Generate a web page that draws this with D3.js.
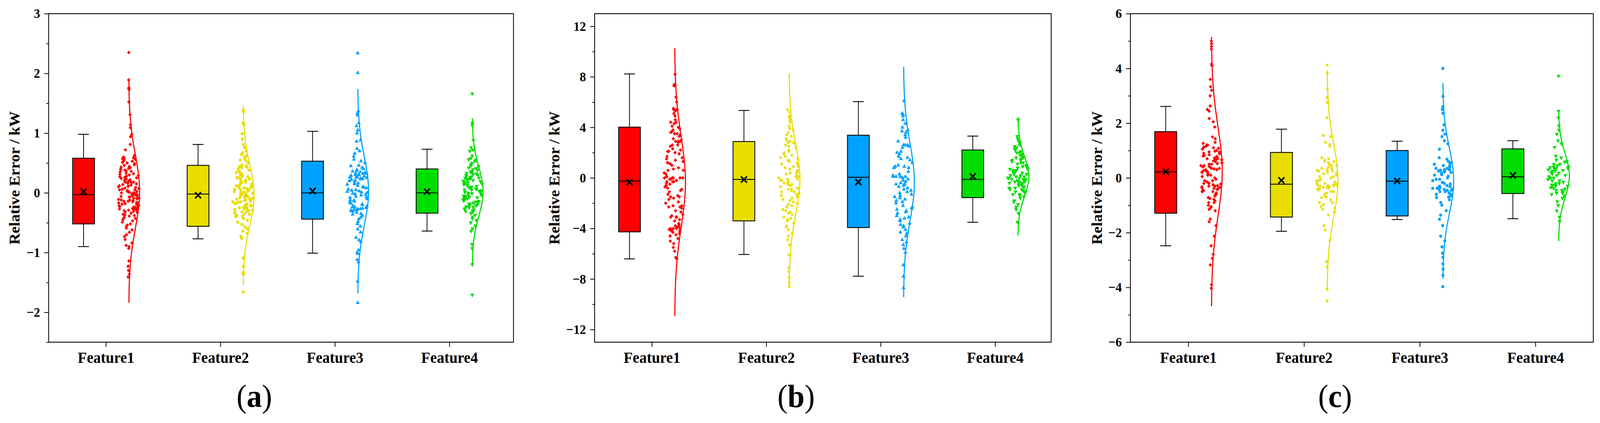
<!DOCTYPE html>
<html lang="en">
  <head>
    <meta charset="utf-8">
    <title>Relative error box + raincloud</title>
    <script src="https://d3js.org/d3.v7.min.js"></script>
    <style>
      html, body { margin: 0; padding: 0; background: #fff; overflow: hidden; }
      svg { display: block; }
      text { font-family: "Times New Roman", "Liberation Serif", serif; }
    </style>
  </head>
  <body>
    <script>

  // ---- data ----
  var categories = ["Feature1", "Feature2", "Feature3", "Feature4"];
  var colors = ["#ff0000", "#e8de00", "#00a2ff", "#00dd00"];

  // y axes per panel
  var yDomainA = [-2.5, 3], yDomainB = [-13, 13], yDomainC = [-6, 6];
  var yTicksA = [-2, -1, 0, 1, 2, 3];
  var yTicksB = [-12, -8, -4, 0, 4, 8, 12];
  var yTicksC = [-6, -4, -2, 0, 2, 4, 6];
  var yMinorA = [-2.5, -1.5, -0.5, 0.5, 1.5, 2.5];
  var yMinorB = [-10, -6, -2, 2, 6, 10];
  var yMinorC = [-5, -3, -1, 1, 3, 5];

  // box stats per feature: [whiskerLow, q1, median, q3, whiskerHigh, mean, sd]
  var statsA = [
    [-0.90, -0.52, -0.03, 0.58, 0.98, 0.02, 0.62],
    [-0.77, -0.56, -0.02, 0.46, 0.81, -0.04, 0.50],
    [-1.01, -0.44, 0.00, 0.53, 1.03, 0.03, 0.57],
    [-0.64, -0.34, 0.00, 0.40, 0.73, 0.02, 0.41]
  ];
  var statsB = [
    [-6.41, -4.27, -0.25, 4.02, 8.23, -0.33, 3.53],
    [-6.06, -3.40, -0.12, 2.88, 5.34, -0.13, 2.80],
    [-7.78, -3.93, 0.05, 3.38, 6.04, -0.33, 3.04],
    [-3.51, -1.56, -0.12, 2.21, 3.31, 0.12, 1.56]
  ];
  var statsC = [
    [-2.48, -1.29, 0.22, 1.69, 2.61, 0.23, 1.64],
    [-1.95, -1.43, -0.23, 0.93, 1.78, -0.09, 1.34],
    [-1.52, -1.39, -0.12, 1.00, 1.34, -0.11, 1.19],
    [-1.49, -0.57, 0.04, 1.06, 1.36, 0.09, 0.80]
  ];

  // raw points, panel (a)
  var a1 = [2.35, 1.89, 1.76, 1.75, 1.73, 1.52, 1.31, 1.14, 1.09, 0.98, 0.94, 0.81, 0.72, 0.63, 0.60, 0.59, 0.58, 0.57, 0.56,
    0.55, 0.53, 0.51, 0.50, 0.49, 0.46, 0.44, 0.42, 0.41, 0.40, 0.39, 0.38, 0.36, 0.35, 0.33, 0.32, 0.31, 0.29, 0.27, 0.26,
    0.25, 0.24, 0.22, 0.21, 0.20, 0.19, 0.18, 0.17, 0.16, 0.14, 0.13, 0.12, 0.11, 0.10, 0.08, 0.07, 0.06, 0.05, 0.04, 0.03,
    0.02, 0.01, 0.00, 0.00, -0.01, -0.02, -0.03, -0.04, -0.05, -0.06, -0.07, -0.08, -0.09, -0.10, -0.11, -0.12, -0.13,
    -0.14, -0.15, -0.16, -0.17, -0.18, -0.19, -0.20, -0.21, -0.22, -0.23, -0.24, -0.25, -0.26, -0.27, -0.28, -0.29, -0.30,
    -0.31, -0.33, -0.34, -0.36, -0.38, -0.39, -0.41, -0.43, -0.45, -0.47, -0.49, -0.52, -0.54, -0.56, -0.59, -0.62, -0.66,
    -0.70, -0.73, -0.78, -0.84, -0.88, -0.90, -0.93, -1.14, -1.23, -1.30, -1.36, -1.41,
    0.47, 0.43, 0.37, 0.28, 0.23, 0.15, 0.09, 0.02, -0.04, -0.09, -0.14, -0.19, -0.24, -0.29, -0.32, -0.37, -0.42, -0.22,
    -0.12, 0.05, 0.18, 0.30, 0.52, -0.27, -0.17, -0.07, 0.11, 0.26];
  var a2 = [1.38, 1.36, 1.17, 1.14, 0.99, 0.90, 0.81, 0.76, 0.70, 0.67, 0.64, 0.60, 0.57, 0.54, 0.50, 0.47, 0.45, 0.43,
    0.42, 0.40, 0.38, 0.36, 0.35, 0.33, 0.31, 0.30, 0.28, 0.27, 0.25, 0.24, 0.23, 0.21, 0.20, 0.19, 0.17, 0.16, 0.14, 0.13,
    0.12, 0.11, 0.09, 0.08, 0.07, 0.06, 0.05, 0.03, 0.02, 0.01, 0.00, -0.01, -0.02, -0.03, -0.04, -0.05, -0.06, -0.07,
    -0.08, -0.09, -0.10, -0.11, -0.12, -0.13, -0.14, -0.15, -0.16, -0.17, -0.18, -0.19, -0.21, -0.22, -0.24, -0.25, -0.27,
    -0.28, -0.30, -0.31, -0.33, -0.35, -0.37, -0.38, -0.40, -0.43, -0.46, -0.49, -0.53, -0.57, -0.60, -0.64, -0.68, -0.73,
    -0.76, -1.09, -1.23, -1.34, -1.36, -1.66,
    0.62, 0.55, 0.44, 0.34, 0.26, 0.18, 0.10, 0.04, -0.02, -0.06, -0.11, -0.15, -0.20, -0.23, -0.26, -0.29, -0.32, -0.36,
    -0.39, 0.22, 0.15, 0.08];
  var a3 = [2.34, 2.01, 1.37, 1.33, 1.30, 1.17, 1.12, 1.05, 1.00, 0.88, 0.86, 0.74, 0.70, 0.66, 0.61, 0.56, 0.53, 0.50,
    0.46, 0.42, 0.39, 0.37, 0.36, 0.35, 0.33, 0.32, 0.31, 0.30, 0.29, 0.28, 0.27, 0.26, 0.25, 0.24, 0.23, 0.22, 0.20, 0.18,
    0.16, 0.14, 0.12, 0.10, 0.08, 0.06, 0.05, 0.03, 0.02, 0.01, 0.00, -0.01, -0.03, -0.04, -0.06, -0.08, -0.10, -0.12,
    -0.14, -0.16, -0.18, -0.20, -0.22, -0.23, -0.24, -0.25, -0.26, -0.27, -0.28, -0.29, -0.30, -0.31, -0.33, -0.35, -0.38,
    -0.41, -0.44, -0.48, -0.52, -0.56, -0.61, -0.66, -0.75, -0.79, -0.82, -0.96, -1.00, -1.02, -1.12, -1.16, -1.48, -1.84,
    0.45, 0.40, 0.34, 0.30, 0.27, 0.24, 0.21, 0.15, 0.09, 0.04, -0.02, -0.07, -0.13, -0.19, -0.24, -0.27, -0.30, -0.36,
    0.32, 0.26];
  var a4 = [1.66, 1.17, 1.13, 0.88, 0.76, 0.72, 0.70, 0.62, 0.58, 0.56, 0.55, 0.53, 0.50, 0.47, 0.44, 0.42, 0.41, 0.38,
    0.36, 0.35, 0.34, 0.32, 0.30, 0.29, 0.28, 0.26, 0.25, 0.24, 0.22, 0.21, 0.20, 0.19, 0.17, 0.16, 0.15, 0.14, 0.12, 0.11,
    0.10, 0.09, 0.07, 0.06, 0.05, 0.04, 0.02, 0.01, 0.00, -0.01, -0.02, -0.03, -0.04, -0.05, -0.06, -0.07, -0.08, -0.10,
    -0.11, -0.13, -0.14, -0.16, -0.17, -0.18, -0.19, -0.21, -0.22, -0.24, -0.25, -0.26, -0.28, -0.30, -0.32, -0.34, -0.37,
    -0.40, -0.43, -0.46, -0.50, -0.55, -0.60, -0.64, -0.86, -0.93, -1.20, -1.71,
    0.45, 0.39, 0.33, 0.27, 0.23, 0.18, 0.13, 0.08, 0.03, -0.03, -0.09, -0.12, -0.15, -0.20, -0.23, -0.27, -0.31, 0.31,
    0.25, 0.05, -0.06];

  // raw points, panel (b)
  var b1 = [8.2, 7.4, 7.3, 7.3, 6.4, 6.0, 5.5, 5.4, 5.4, 5.3, 5.1, 4.9, 4.6, 4.4, 4.3, 4.1, 4.0, 3.9, 3.8, 3.6, 3.5, 3.5,
    3.4, 3.3, 3.1, 3.0, 2.9, 2.9, 2.8, 2.6, 2.6, 2.5, 2.3, 2.1, 2.1, 2.0, 1.9, 1.7, 1.6, 1.5, 1.4, 1.3, 1.2, 1.1, 1.0,
    0.8, 0.7, 0.6, 0.4, 0.3, 0.1, 0.0, 0.0, 0.0, 0.0, -0.1, -0.1, -0.2, -0.3, -0.3, -0.4, -0.5, -0.7, -0.8, -0.9, -1.0,
    -1.1, -1.3, -1.4, -1.5, -1.6, -1.7, -1.9, -2.0, -2.2, -2.2, -2.3, -2.4, -2.6, -2.7, -2.9, -3.0, -3.1, -3.1, -3.3,
    -3.4, -3.6, -3.7, -3.8, -3.9, -4.0, -4.0, -4.0, -4.1, -4.1, -4.2, -4.2, -4.3, -4.4, -4.5, -4.6, -4.8, -5.0, -5.2,
    -5.5, -5.8, -6.3, -6.4,
    4.4, 3.7, 2.9, 2.2, 1.2, 0.0, -0.6, -1.5, -2.3, -3.1, -3.8, -4.0, -4.3, -4.2, 5.4, 0.6, -0.3];
  var b2 = [5.4, 5.2, 4.9, 4.8, 4.6, 4.4, 4.1, 3.9, 3.8, 3.6, 3.4, 3.3, 3.1, 2.9, 2.8, 2.8, 2.7, 2.5, 2.4, 2.2, 2.1, 2.0,
    1.8, 1.7, 1.6, 1.5, 1.4, 1.3, 1.2, 1.1, 1.0, 0.9, 0.8, 0.7, 0.6, 0.5, 0.4, 0.3, 0.2, 0.1, 0.0, 0.0, -0.1, -0.1, -0.2,
    -0.3, -0.4, -0.5, -0.6, -0.7, -0.8, -0.9, -0.9, -1.0, -1.1, -1.2, -1.3, -1.4, -1.5, -1.6, -1.8, -1.9, -2.0, -2.2,
    -2.3, -2.5, -2.6, -2.8, -2.9, -3.1, -3.3, -3.4, -3.6, -3.8, -3.9, -4.1, -4.4, -4.6, -4.9, -5.3, -6.1, -7.1, -7.4,
    -7.9, -8.3, -8.6,
    3.0, 2.6, 1.9, 1.4, 0.9, 0.4, -0.2, -0.5, -0.8, -1.1, -1.7, -2.1, -2.7, -3.2, 0.1, -0.4];
  var b3 = [6.1, 5.1, 5.0, 4.9, 4.6, 4.3, 4.0, 3.8, 3.6, 3.4, 3.2, 2.9, 2.6, 2.6, 2.5, 2.4, 2.1, 2.0, 1.9, 1.7, 1.6, 1.4,
    1.2, 1.0, 0.9, 0.8, 0.8, 0.5, 0.3, 0.2, 0.1, 0.1, 0.1, 0.0, -0.1, -0.3, -0.4, -0.5, -0.6, -0.8, -0.9, -1.0, -1.1, -1.3,
    -1.4, -1.5, -1.6, -1.8, -1.9, -2.0, -2.2, -2.3, -2.4, -2.6, -2.7, -2.8, -3.0, -3.1, -3.3, -3.4, -3.6, -3.7, -3.9,
    -4.1, -4.3, -4.4, -4.6, -4.9, -5.1, -5.3, -5.6, -5.9, -6.9, -7.8, -8.7,
    3.7, 2.6, 1.5, 0.8, 0.1, 0.1, -0.2, -0.7, -1.2, -1.7, -2.5, -3.2, -3.8, 0.9, -0.5];
  var b4 = [4.6, 3.3, 3.1, 2.9, 2.8, 2.6, 2.5, 2.4, 2.3, 2.2, 2.1, 2.0, 1.9, 1.8, 1.7, 1.6, 1.5, 1.4, 1.3, 1.2, 1.1, 1.0,
    0.9, 0.8, 0.8, 0.7, 0.6, 0.5, 0.5, 0.4, 0.4, 0.3, 0.2, 0.2, 0.1, 0.0, 0.0, 0.0, -0.1, -0.1, -0.2, -0.3, -0.3, -0.4,
    -0.5, -0.5, -0.6, -0.7, -0.8, -0.9, -1.0, -1.1, -1.2, -1.3, -1.4, -1.5, -1.6, -1.8, -1.9, -2.1, -2.3, -2.5, -2.8, -3.5,
    1.6, 1.2, 0.9, 0.6, 0.3, 0.1, -0.1, -0.2, -0.4, -0.6, -0.7, -0.9, -1.1, -1.3, 2.0, 1.4, 0.7, 0.0, -0.3, -0.8];

  // raw points, panel (c)
  var c1 = [5.00, 4.90, 4.80, 4.70, 4.16, 4.10, 3.60, 3.33, 3.20, 3.00, 2.63, 2.50, 2.44, 2.17, 2.05, 1.86, 1.50, 1.43,
    1.30, 1.26, 1.20, 1.16, 1.12, 1.08, 1.05, 1.00, 0.98, 0.94, 0.90, 0.88, 0.85, 0.82, 0.78, 0.76, 0.72, 0.70, 0.66, 0.62,
    0.60, 0.55, 0.52, 0.50, 0.45, 0.42, 0.40, 0.38, 0.35, 0.33, 0.30, 0.26, 0.22, 0.20, 0.15, 0.10, 0.05, 0.00, -0.05,
    -0.10, -0.15, -0.20, -0.22, -0.25, -0.28, -0.30, -0.32, -0.34, -0.36, -0.38, -0.42, -0.46, -0.50, -0.55, -0.60, -0.66,
    -0.72, -0.78, -0.84, -0.90, -1.00, -1.10, -1.15, -1.20, -1.50, -1.60, -1.74, -2.13, -2.48, -2.79, -2.94, -3.18, -3.90,
    -4.03,
    1.10, 0.95, 0.80, 0.65, 0.50, 0.35, 0.30, 0.25, 0.10, -0.10, -0.20, -0.30, -0.40, -0.45, -0.50, -0.60, -0.75, -0.90,
    -1.05, 0.45, 0.70, 1.20];
  var c2 = [4.12, 3.83, 3.25, 2.94, 2.79, 2.75, 2.20, 1.55, 1.51, 1.30, 1.22, 1.16, 0.74, 0.70, 0.65, 0.60, 0.55, 0.50,
    0.45, 0.40, 0.35, 0.30, 0.28, 0.25, 0.20, 0.15, 0.10, 0.05, 0.00, -0.05, -0.10, -0.15, -0.20, -0.22, -0.25, -0.28,
    -0.30, -0.33, -0.35, -0.38, -0.40, -0.45, -0.50, -0.55, -0.60, -0.66, -0.72, -0.80, -0.90, -0.97, -1.05, -1.15, -1.25,
    -1.36, -1.74, -1.90, -2.28, -3.06, -3.25, -4.07, -4.49,
    0.60, 0.45, 0.35, 0.20, 0.05, -0.10, -0.20, -0.25, -0.30, -0.35, -0.40, -0.50, -0.70, -0.90, -1.10, 0.25, -0.28];
  var c3 = [4.00, 2.98, 2.60, 2.50, 2.36, 1.94, 1.74, 1.60, 1.51, 1.36, 1.25, 1.05, 0.74, 0.68, 0.60, 0.55, 0.50, 0.45,
    0.40, 0.35, 0.30, 0.28, 0.25, 0.22, 0.18, 0.12, 0.06, 0.00, -0.05, -0.10, -0.16, -0.22, -0.28, -0.32, -0.36, -0.38,
    -0.40, -0.42, -0.45, -0.50, -0.55, -0.60, -0.66, -0.72, -0.80, -0.90, -1.00, -1.20, -1.36, -1.51, -1.74, -2.13, -2.30,
    -2.52, -2.75, -2.90, -3.14, -3.33, -3.56, -3.97,
    0.55, 0.45, 0.35, 0.30, 0.25, 0.20, 0.10, -0.05, -0.20, -0.30, -0.35, -0.40, -0.45, -0.50, -0.60, -0.70, 0.28, -0.38];
  var c4 = [3.72, 2.44, 2.20, 1.90, 1.75, 1.60, 1.36, 1.25, 1.12, 0.80, 0.74, 0.66, 0.58, 0.50, 0.45, 0.40, 0.38, 0.35,
    0.30, 0.28, 0.25, 0.20, 0.15, 0.10, 0.05, 0.00, -0.05, -0.10, -0.15, -0.20, -0.25, -0.28, -0.30, -0.35, -0.40, -0.45,
    -0.50, -0.55, -0.60, -0.74, -0.86, -1.00, -1.20, -1.43, -1.59,
    0.60, 0.50, 0.40, 0.32, 0.25, 0.18, 0.10, 0.00, -0.10, -0.20, -0.30, -0.38, -0.45, -0.55, -0.65, 0.35, -0.25];

  // marker shapes per panel
  var markersA = ["diamond", "circle", "triangle", "triangleDown"];
  var markersB = ["diamond", "square", "triangle", "triangleDown"];
  var markersC = ["diamond", "square", "circle", "triangleDown"];

  // ---- layout ----
  var W = 4300, H = 1083;
  var plotTop = 35, plotBottom = 876;
  var panels = [
    {label: "a", yDomain: yDomainA, ticks: yTicksA, minor: yMinorA, stats: statsA, points: [a1, a2, a3, a4], markers: markersA,
      left: 130.7, right: 1380, xMax: 4.56, titleGap: 78},
    {label: "b", yDomain: yDomainB, ticks: yTicksB, minor: yMinorB, stats: statsB, points: [b1, b2, b3, b4], markers: markersB,
      left: 1598, right: 2825, xMax: 4.49, titleGap: 95},
    {label: "c", yDomain: yDomainC, ticks: yTicksC, minor: yMinorC, stats: statsC, points: [c1, c2, c3, c4], markers: markersC,
      left: 3038, right: 4282, xMax: 4.5, titleGap: 76}
  ];

  var boxOffset = -0.195, cloudOffset = 0.2, boxWidth = 0.19;
  var curveMax = 29;   // px, widest point of the half-normal curve

  var symbols = {
    diamond: {type: d3.symbolDiamond2 || d3.symbolSquare, size: 56, rot: d3.symbolDiamond2 ? 0 : 45},
    circle: {type: d3.symbolCircle, size: 50, rot: 0},
    square: {type: d3.symbolSquare, size: 42, rot: 0},
    triangle: {type: d3.symbolTriangle, size: 50, rot: 0},
    triangleDown: {type: d3.symbolTriangle, size: 50, rot: 180}
  };

  // deterministic spread for point layout
  function spread(i) {
    var s = Math.sin(i * 127.1 + 311.7) * 43758.5453;
    return s - Math.floor(s);
  }
  var minus = s => String(s).replace("-", "\u2212");

  // drawn in a 4300x1083 coordinate system, scaled to the window
  var svg = d3.select("body").append("svg")
    .attr("viewBox", `0 0 ${W} ${H}`)
    .attr("preserveAspectRatio", "none")
    .style("width", "100vw")
    .style("height", "100vh");

  panels.forEach(function(p, pi) {
    var x = d3.scaleLinear().domain([0.5, p.xMax]).range([p.left, p.right]);
    var y = d3.scaleLinear().domain(p.yDomain).range([plotBottom, plotTop]);
    var g = svg.append("g");
    var bw = x(1 + boxWidth) - x(1);

    // axes
    var yAxis = d3.axisLeft(y).tickValues(p.ticks).tickSize(12).tickPadding(11).tickSizeOuter(0).tickFormat(minus);
    var ya = g.append("g").attr("transform", `translate(${p.left},0)`).call(yAxis);
    var ym = g.append("g").attr("transform", `translate(${p.left},0)`)
      .call(d3.axisLeft(y).tickValues(p.minor).tickSize(6).tickSizeOuter(0).tickFormat(""));
    var xAxis = d3.axisBottom(x).tickValues([1, 2, 3, 4]).tickSize(12).tickPadding(13).tickSizeOuter(0)
      .tickFormat((d, i) => categories[i]);
    var xa = g.append("g").attr("transform", `translate(0,${plotBottom})`).call(xAxis);

    [ya, ym, xa].forEach(function(a) {
      a.select(".domain").remove();
      a.selectAll(".tick line").attr("stroke", "#000").attr("stroke-width", 2);
    });
    ya.selectAll(".tick text").attr("font-size", 34).attr("font-weight", "bold").attr("fill", "#000");
    xa.selectAll(".tick text").attr("font-size", 40).attr("font-weight", "bold").attr("fill", "#000");

    g.append("rect")
      .attr("x", p.left).attr("y", plotTop)
      .attr("width", p.right - p.left).attr("height", plotBottom - plotTop)
      .attr("fill", "none").attr("stroke", "#000").attr("stroke-width", 2.2);

    // y title
    g.append("text")
      .attr("transform", `translate(${p.left - p.titleGap},${(plotTop + plotBottom) / 2}) rotate(-90)`)
      .attr("text-anchor", "middle")
      .attr("font-size", 40).attr("font-weight", "bold")
      .text("Relative Error / kW");

    // panel label
    var lab = g.append("text")
      .attr("x", (p.left + p.right) / 2 - 72).attr("y", 1042)
      .attr("text-anchor", "middle").attr("font-size", 82);
    lab.append("tspan").text("(");
    lab.append("tspan").attr("font-weight", "bold").text(p.label);
    lab.append("tspan").text(")");

    p.stats.forEach(function(s, k) {
      var col = colors[k];
      var bx = x(k + 1 + boxOffset);
      var cx = x(k + 1 + cloudOffset);
      var mean = s[5], sd = s[6];

      // whiskers
      g.append("line").attr("x1", bx).attr("x2", bx).attr("y1", y(s[0])).attr("y2", y(s[4]))
        .attr("stroke", "#000").attr("stroke-width", 2);
      [s[0], s[4]].forEach(function(v) {
        g.append("line").attr("x1", bx - bw / 4).attr("x2", bx + bw / 4).attr("y1", y(v)).attr("y2", y(v))
          .attr("stroke", "#000").attr("stroke-width", 2.2);
      });
      // box
      g.append("rect").attr("x", bx - bw / 2).attr("width", bw)
        .attr("y", y(s[3])).attr("height", y(s[1]) - y(s[3]))
        .attr("fill", col).attr("stroke", "#000").attr("stroke-width", 2.2);
      g.append("line").attr("x1", bx - bw / 2).attr("x2", bx + bw / 2).attr("y1", y(s[2])).attr("y2", y(s[2]))
        .attr("stroke", "#000").attr("stroke-width", 2.2);
      // mean cross
      var my = y(mean), r = 8;
      g.append("path")
        .attr("d", `M${bx - r},${my - r}L${bx + r},${my + r}M${bx - r},${my + r}L${bx + r},${my - r}`)
        .attr("stroke", "#000").attr("stroke-width", 4).attr("fill", "none");

      // points
      var sym = symbols[p.markers[k]];
      var shape = d3.symbol().type(sym.type).size(sym.size);
      g.append("g").selectAll("path")
        .data(p.points[k])
        .join("path")
        .attr("d", shape)
        .attr("fill", col)
        .attr("transform", function(v, i) {
          var w = curveMax * Math.exp(-Math.pow(v - mean, 2) / (2 * sd * sd));
          var dx = (spread(i + 1000 * (pi * 4 + k)) * 2 - 1) * w;
          return `translate(${cx + dx},${y(v)}) rotate(${sym.rot})`;
        });

      // half normal curve over mean +/- 3 sd
      var vs = d3.range(0, 121).map(j => mean - 3 * sd + j * sd / 20);
      var line = d3.line()
        .x(v => cx + curveMax * Math.exp(-Math.pow(v - mean, 2) / (2 * sd * sd)))
        .y(v => y(v))
        .curve(d3.curveBasis);
      g.append("path").datum(vs).attr("d", line)
        .attr("fill", "none").attr("stroke", col).attr("stroke-width", 3);
    });
  });

    </script>
  </body>
</html>
